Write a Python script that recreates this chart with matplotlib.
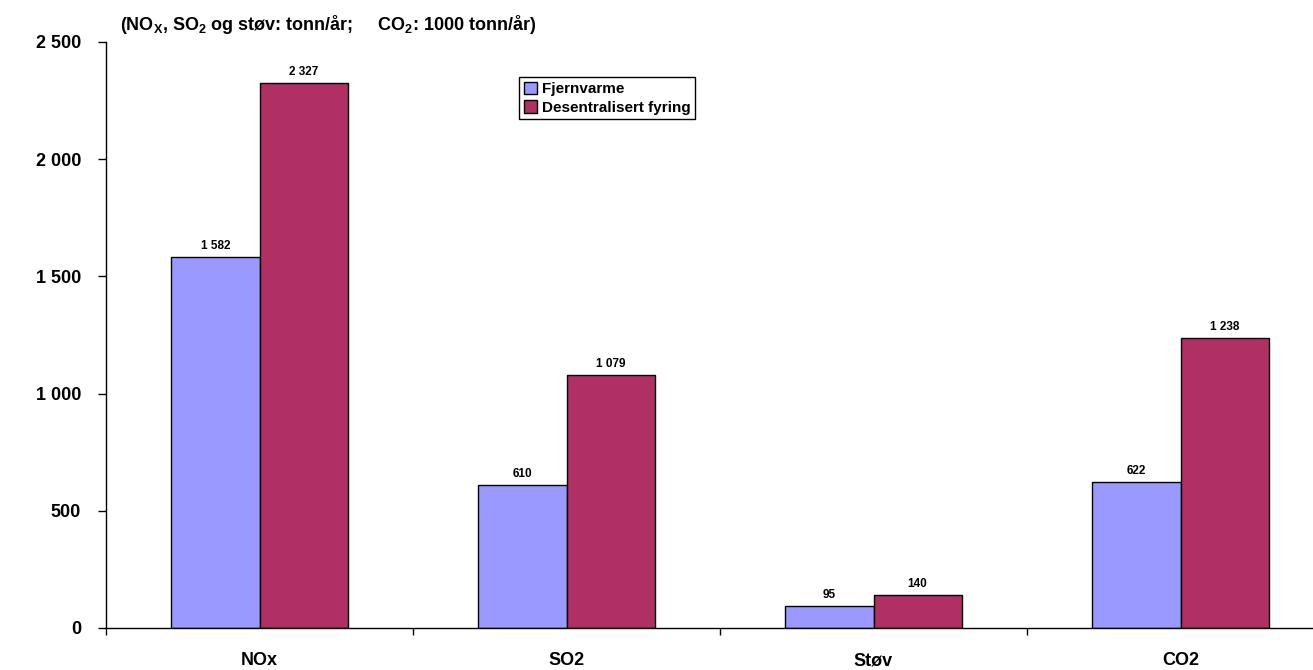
import numpy as np
import matplotlib.pyplot as plt

plt.rcParams['font.family'] = 'Liberation Sans'
plt.rcParams['font.weight'] = 'bold'
plt.rcParams['mathtext.fontset'] = 'custom'
plt.rcParams['mathtext.rm'] = 'Liberation Sans:bold'
plt.rcParams['mathtext.bf'] = 'Liberation Sans:bold'

# data
categories = ['NOx', 'SO2', 'Støv', 'CO2']
fjernvarme = [1582, 610, 95, 622]
desentral = [2327, 1079, 140, 1238]
series_names = ['Fjernvarme', 'Desentralisert fyring']
yticks = [0, 500, 1000, 1500, 2000, 2500]
ytick_labels = ['0', '500', '1 000', '1 500', '2 000', '2 500']

BLUE = '#9999FF'
RED = '#B03064'

W, H = 1313, 670
fig = plt.figure(figsize=(W / 100, H / 100), dpi=100)
ax = fig.add_axes([106 / W, (H - 628) / H, 1228 / W, 586 / H])

x = np.arange(len(categories))
bw = 0.287


def fmt(v):
    return f'{v:,}'.replace(',', ' ')


b1 = ax.bar(x - bw / 2, fjernvarme, bw, color=BLUE, edgecolor='black', linewidth=1, label=series_names[0])
b2 = ax.bar(x + bw / 2, desentral, bw, color=RED, edgecolor='black', linewidth=1, label=series_names[1])

for bars, vals in ((b1, fjernvarme), (b2, desentral)):
    for r, v in zip(bars, vals):
        ax.annotate(fmt(v), (r.get_x() + r.get_width() / 2, v), xytext=(0, 8),
                    textcoords='offset pixels', ha='center', va='baseline',
                    fontsize=8.5, fontweight='bold')

# category names under the axis
for i, c in enumerate(categories):
    ax.annotate(c, (i, 0), xytext=(0, -37), textcoords='offset pixels',
                ha='center', va='baseline', fontsize=13, fontweight='bold',
                annotation_clip=False)

ax.set_xlim(-0.5, len(categories) - 0.5)
ax.set_ylim(0, 2500)
ax.set_yticks(yticks)
ax.set_yticklabels(ytick_labels, fontsize=13, fontweight='bold')
ax.set_xticks(np.arange(len(categories) + 1) - 0.5)
ax.set_xticklabels([])
ax.tick_params(axis='x', which='major', length=5, width=1, direction='out')
ax.tick_params(axis='y', length=6, width=1, direction='out', pad=12)

ax.spines['top'].set_visible(False)
ax.spines['right'].set_visible(False)
for s in ('left', 'bottom'):
    ax.spines[s].set_linewidth(1)

fig.text(120 / W, 1 - 30 / H,
         r'(NO$_{\mathrm{X}}$, SO$_{\mathrm{2}}$ og støv: tonn/år;     CO$_{\mathrm{2}}$: 1000 tonn/år)',
         fontsize=13, fontweight='bold', va='baseline', ha='left')

leg = fig.legend(handles=[b1, b2], labels=series_names, loc='upper left',
                 bbox_to_anchor=(519 / W, 1 - 77 / H), frameon=True, fancybox=False,
                 edgecolor='black', framealpha=1, prop={'size': 11, 'weight': 'bold'},
                 handlelength=0.9, handleheight=0.9, handletextpad=0.3,
                 borderpad=0.3, labelspacing=0.25, borderaxespad=0)
leg.get_frame().set_linewidth(1)

fig.savefig('out.png', dpi=100)
